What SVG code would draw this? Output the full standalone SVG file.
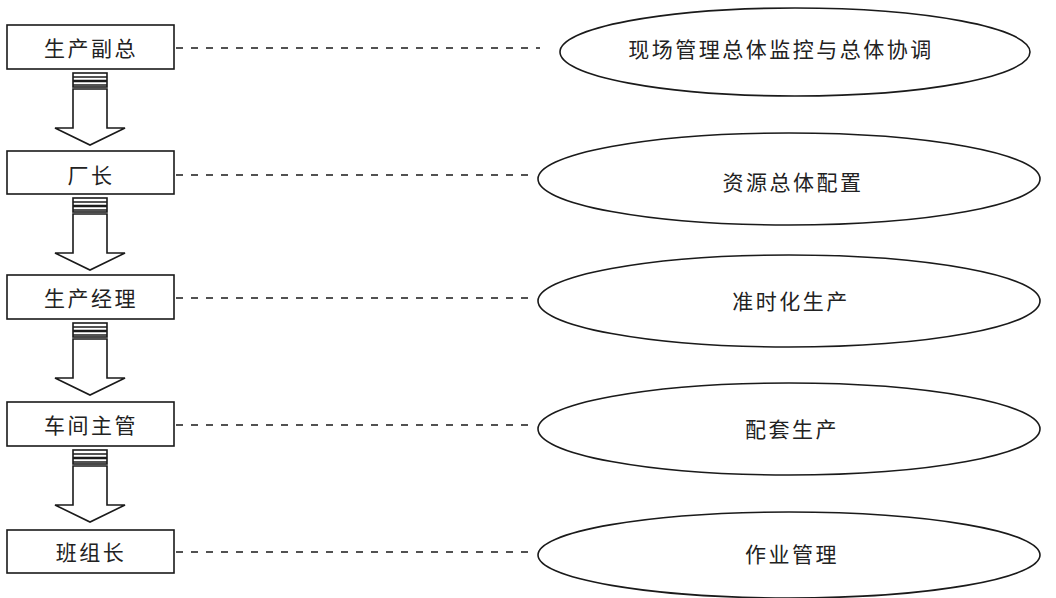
<svg xmlns="http://www.w3.org/2000/svg" width="1056" height="598" viewBox="0 0 1056 598">
<style>
.box{fill:#fff;stroke:#1a1a1a;stroke-width:1.6}
.ell{fill:#fff;stroke:#1a1a1a;stroke-width:1.6}
.t{font-family:"Noto Sans CJK SC","Noto Sans CJK JP",sans-serif;font-size:21px;fill:#222;text-anchor:middle;dominant-baseline:central;letter-spacing:2.5px}
.dash{stroke:#1a1a1a;stroke-width:1.6;stroke-dasharray:7 8;fill:none}
.arr{fill:#fff;stroke:#1a1a1a;stroke-width:1.6}
</style>
<defs>
<g id="arrow">
<rect x="73" y="0" width="34" height="14" class="arr"/>
<line x1="73" y1="4" x2="107" y2="4" stroke="#1a1a1a" stroke-width="1.4"/>
<line x1="73" y1="8" x2="107" y2="8" stroke="#1a1a1a" stroke-width="2.6"/>
<line x1="73" y1="12" x2="107" y2="12" stroke="#1a1a1a" stroke-width="1.4"/>
<polygon points="73,16 107,16 107,55 125,55 90,72 55,55 73,55" class="arr"/>
</g>
</defs>
<g id="connectors">
<line x1="176" y1="48" x2="540" y2="48" class="dash"/>
<line x1="176" y1="175" x2="536" y2="175" class="dash"/>
<line x1="176" y1="298" x2="536" y2="298" class="dash"/>
<line x1="176" y1="425" x2="536" y2="425" class="dash"/>
<line x1="176" y1="552" x2="536" y2="552" class="dash"/>
<use href="#arrow" x="0" y="73"/>
<use href="#arrow" x="0" y="198"/>
<use href="#arrow" x="0" y="323"/>
<use href="#arrow" x="0" y="450"/>
</g>
<g id="n1"><rect x="7" y="25" width="167" height="44" class="box"/><text x="91" y="47" class="t">生产副总</text></g>
<g id="n2"><rect x="7" y="151" width="167" height="43" class="box"/><text x="91" y="174" class="t">厂长</text></g>
<g id="n3"><rect x="7" y="275" width="167" height="44" class="box"/><text x="91" y="297" class="t">生产经理</text></g>
<g id="n4"><rect x="7" y="402" width="167" height="44" class="box"/><text x="91" y="424" class="t">车间主管</text></g>
<g id="n5"><rect x="7" y="530" width="167" height="43" class="box"/><text x="91" y="551" class="t">班组长</text></g>
<g id="e1"><ellipse cx="795" cy="52" rx="235" ry="44" class="ell"/><text x="781" y="48" class="t">现场管理总体监控与总体协调</text></g>
<g id="e2"><ellipse cx="789" cy="179" rx="251" ry="46" class="ell"/><text x="793" y="181" class="t">资源总体配置</text></g>
<g id="e3"><ellipse cx="789" cy="301" rx="251" ry="46" class="ell"/><text x="791" y="300" class="t">准时化生产</text></g>
<g id="e4"><ellipse cx="789" cy="429" rx="251" ry="46" class="ell"/><text x="792" y="428" class="t">配套生产</text></g>
<g id="e5"><ellipse cx="789" cy="555" rx="251" ry="43" class="ell"/><text x="792" y="553" class="t">作业管理</text></g>
</svg>
